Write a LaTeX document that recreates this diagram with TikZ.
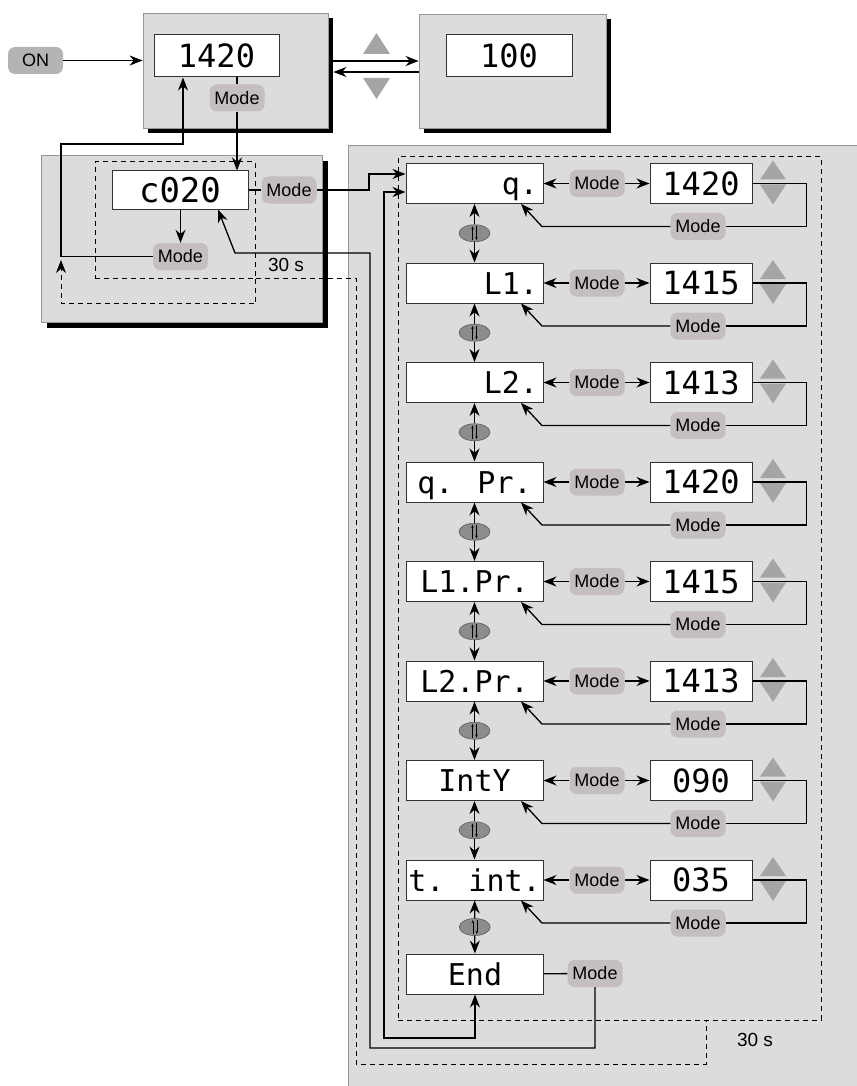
\documentclass[tikz,border=0pt]{standalone}
\usepackage{fontspec}
\setmainfont{Liberation Sans}
\newfontfamily\segfont{DejaVu Sans Mono}
\usepackage{tikz}
\usetikzlibrary{positioning, arrows.meta, shapes.geometric, calc, shadows}
\definecolor{panelgray}{RGB}{220,220,220}
\definecolor{edgegray}{RGB}{150,150,150}
\definecolor{btngray}{RGB}{196,190,191}
\definecolor{ongray}{RGB}{180,180,180}
\definecolor{trigray}{RGB}{165,165,165}
\definecolor{rollgray}{RGB}{140,140,140}
\tikzset{
  unit/.style={
    draw=edgegray, fill=panelgray, line width=0.8pt,
    drop shadow={fill=black, opacity=1, shadow xshift=#1, shadow yshift=-#1},
  },
  unit/.default=5pt,
  lcd/.style={
    draw=black!80, fill=white, line width=1pt,
    minimum width=137pt, minimum height=40pt, inner sep=5pt,
    text height=22pt, text depth=0pt,
    font=\segfont\fontsize{30}{30}\selectfont,
  },
  lcd sm/.style={
    draw=black!80, fill=white, line width=1pt,
    minimum width=102pt, minimum height=40pt, inner sep=0pt,
    text height=23pt, text depth=0pt,
    font=\segfont\fontsize{32}{32}\selectfont,
  },
  btn/.style={
    fill=btngray, rounded corners=7pt, minimum width=55pt,
    minimum height=27pt, inner sep=0pt, font=\fontsize{18}{18}\selectfont,
  },
  rel/.style={draw=black, line width=1.3pt},
  relD/.style={draw=black, line width=1pt, dash pattern=on 5pt off 4pt},
  roll/.style={ellipse, draw=black!65, fill=rollgray, line width=0.6pt,
    minimum width=31pt, minimum height=17pt, inner sep=0pt},
  tri/.style={fill=trigray},
  secs/.style={font=\fontsize{19}{19}\selectfont, inner sep=0pt},
}

\begin{document}
\begin{tikzpicture}[x=1pt, y=-1pt, >={Stealth[length=13pt, width=10pt]}]
\useasboundingbox (0,0) rectangle (856,1086);

% menu panel
\fill[panelgray] (348,145) rectangle (870,1100);
\draw[edgegray, line width=0.8pt] (348,1100) -- (348,145) -- (870,145);

% operating display and setpoint
\node[btn, fill=ongray] (on) at (35.5,60.5) {ON};
\node[unit, minimum width=185pt, minimum height=115pt] (unitA) at (235.5,70.5) {};
\node[unit, minimum width=187pt, minimum height=114pt] (unitB) at (512.5,71) {};
\node[lcd sm, minimum width=125pt, minimum height=42pt] (run) at (216.5,56) {1420};
\node[lcd sm, minimum width=126pt, minimum height=42pt] (rate) at (509,56) {100};
\node[btn] (modeA) at (237,98) {Mode};

\fill[tri] (363,54) -- (390,54) -- (376.5,33) -- cycle;
\fill[tri] (363,78) -- (390,78) -- (376.5,99) -- cycle;

\draw[rel, ->] (on) -- (on -| unitA.west);
\draw[rel, ->] ($(unitA.east)+(5,-9.5)$) -- ($(unitB.west)+(0,-10)$);
\draw[rel, ->] ($(unitB.west)+(0,1)$) -- ($(unitA.east)+(5,1.5)$);

% code entry
\node[unit=6pt, minimum width=281pt, minimum height=167pt] (unitC) at (181.5,238.5) {};
\node[relD, draw, minimum width=160pt, minimum height=116pt] (tmA) at (175,220) {};
\node[lcd sm, minimum width=136pt, minimum height=38pt, text height=25pt,
      font=\segfont\fontsize{34}{34}\selectfont] (code) at (180,190) {c020};
\node[btn] (modeC) at (289,190) {Mode};
\node[btn] (modeD) at (180.5,256.5) {Mode};
\node[secs] (tA) at (286,265) {30 s};

\draw[rel] (modeA.north |- run.south) -- (modeA);
\draw[rel, ->] (modeA) -- (modeA |- code.north);
\draw[rel] (code) -- (modeC);
\draw[rel, ->] (code.south -| modeD) -- (modeD);
\draw[rel, ->] (modeD) -| (61,144) -| ($(run.south)+(-33.5,0)$);
\draw[relD, ->] (tmA.south east) -- ++(0,25) -| (61,260);

% menu items
\node[relD, draw, minimum width=423pt, minimum height=863pt] (tmB) at (609.5,588.5) {};
\node[secs] (tB) at (755,1040) {30 s};
\draw[relD] (tmA.south east) -| (356,1064) -| (706,1020);

\foreach \i/\lab/\val/\al in {1/q./1420/r, 2/L1./1415/r, 3/L2./1413/r,
    4/q. Pr./1420/c, 5/L1.Pr./1415/c, 6/L2.Pr./1413/c,
    7/IntY/090/c, 8/t. int./035/c}{
  \pgfmathsetmacro{\yc}{183.5+99.5*(\i-1)}
  \node[lcd] (m\i) at (474.5,\yc) {\makebox[127pt][\al]{\lab}};
  \node[btn] (mm\i) at (597,\yc) {Mode};
  \node[lcd sm] (v\i) at (701,\yc) {\val};
  \node[btn] (mr\i) at (698,\yc+43) {Mode};
  \draw[rel, ->] (mm\i) -- (m\i);
  \draw[rel, ->] (mm\i) -- (v\i);
  \fill[tri] (760,\yc-4) -- (786,\yc-4) -- (773,\yc-23) -- cycle;
  \fill[tri] (760,\yc+1) -- (786,\yc+1) -- (773,\yc+21) -- cycle;
  \draw[rel] (v\i.east) -- ++(54,0) |- (mr\i);
  \draw[rel, ->] (mr\i) -- (542,\yc+43) -- ($(m\i.south)+(46.5,0)$);
}

\node[lcd] (m9) at (475,974) {\makebox[127pt][c]{End}};
\node[btn] (mend) at (595,973.5) {Mode};
\draw[rel] (m9) -- (mend);

% up/down keys between items
\foreach \i [evaluate=\i as \j using int(\i+1)] in {1,...,8}{
  \node[roll] (r\i) at ($(m\i.south)!0.5!(m\j.north)$) {};
  \draw[rel, ->] (r\i) -- (m\i);
  \draw[rel, ->] (r\i) -- (m\j);
  \draw[line width=0.5pt, -{Stealth[length=3pt, width=2.5pt]}]
    ($(r\i.south)+(-2,-2)$) -- ($(r\i.north)+(-2,2)$);
  \draw[line width=0.5pt, -{Stealth[length=3pt, width=2.5pt]}]
    ($(r\i.north)+(2,2)$) -- ($(r\i.south)+(2,-2)$);
}

% loops back
\draw[rel, ->] (modeC) -- (369,190) |- ($(m1.west)+(0,-9.5)$);
\draw[rel, <->] ($(m1.west)+(0,8.5)$) -| (384,1038) -| (m9.south);
\draw[rel, ->] (mend) |- (370,1048) |- (235,253) -- ($(code.south)+(38,0)$);

\end{tikzpicture}
\end{document}
